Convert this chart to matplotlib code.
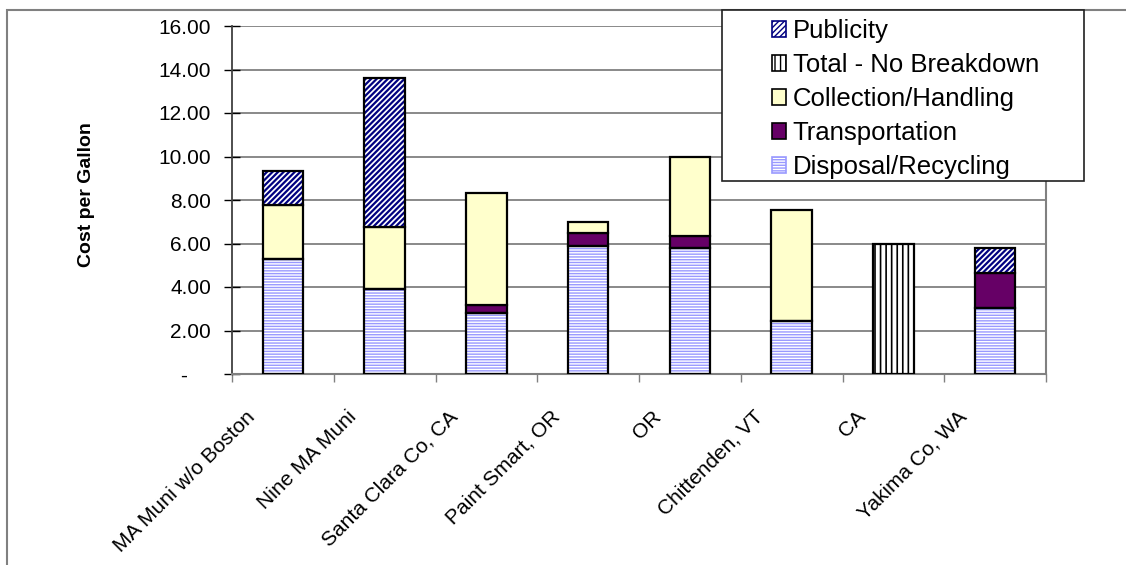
import matplotlib
matplotlib.use("Agg")
import matplotlib.pyplot as plt
import matplotlib.transforms as mtransforms
from matplotlib.patches import Patch, Rectangle
import numpy as np

plt.rcParams['font.family'] = ['Liberation Sans', 'DejaVu Sans']
plt.rcParams['hatch.linewidth'] = 1.0

# data (cost per gallon, stacked)
sites = ['MA Muni w/o Boston', 'Nine MA Muni', 'Santa Clara Co, CA', 'Paint Smart, OR',
         'OR', 'Chittenden, VT', 'CA', 'Yakima Co, WA']
disposal = [5.29, 3.91, 2.80, 5.89, 5.81, 2.45, 0.00, 3.02]
transport = [0.00, 0.00, 0.37, 0.61, 0.53, 0.00, 0.00, 1.61]
collection = [2.48, 2.85, 5.15, 0.50, 3.64, 5.09, 0.00, 0.00]
total_only = [0.00, 0.00, 0.00, 0.00, 0.00, 0.00, 6.00, 0.00]
publicity = [1.56, 6.84, 0.00, 0.00, 0.00, 0.00, 0.00, 1.18]

# (name, values, facecolor, hatch, hatch colour, hatch linewidth)
series = [
    ('Disposal/Recycling', disposal, 'white', '------', '#9999FF', 1.0),
    ('Transportation', transport, '#660066', None, None, 1.0),
    ('Collection/Handling', collection, '#FFFFCC', None, None, 1.0),
    ('Total - No Breakdown', total_only, 'white', '|||', 'black', 1.2),
    ('Publicity', publicity, 'white', '//////', '#000080', 1.6),
]

fig = plt.figure(figsize=(11.26, 5.65), dpi=100)
ax = fig.add_axes([232 / 1126, 1 - 374 / 565, 814 / 1126, 348 / 565])

x = np.arange(len(sites))
width = 0.4
bottom = np.zeros(len(sites))
for name, vals, face, hatch, hcol, hlw in series:
    vals = np.array(vals)
    mask = vals > 0
    if hatch:
        # hatch layer, then black outline on top
        with plt.rc_context({'hatch.linewidth': hlw}):
            ax.bar(x[mask], vals[mask], width, bottom=bottom[mask], color=face,
                   hatch=hatch, edgecolor=hcol, linewidth=0, zorder=3)
        ax.bar(x[mask], vals[mask], width, bottom=bottom[mask], fill=False,
               edgecolor='black', linewidth=1.6, zorder=4)
    else:
        ax.bar(x[mask], vals[mask], width, bottom=bottom[mask], color=face,
               edgecolor='black', linewidth=1.6, zorder=3)
    bottom = bottom + vals

ax.set_xlim(-0.5, len(sites) - 0.5)
ax.set_ylim(0, 16)
yt = np.arange(0, 17, 2)
ax.set_yticks(yt)
# accounting style: zero shown as a dash
ax.set_yticklabels(['-    '] + ['%.2f' % v for v in yt[1:]], fontsize=15)
ax.yaxis.grid(True, color='#808080', linewidth=1.3, zorder=0)
ax.set_axisbelow(True)
ax.tick_params(axis='y', direction='inout', length=12, width=1, pad=9)

ax.set_xticks(x)
ax.set_xticks(np.arange(-0.5, len(sites)), minor=True)
ax.tick_params(axis='x', which='major', length=0, pad=24)
ax.tick_params(axis='x', which='minor', length=6, width=1, color='#808080')
ax.set_xticklabels(sites, rotation=45, ha='right', va='top',
                   rotation_mode='anchor', fontsize=15)
# Excel puts the rotated labels a bit left of the category centre
shift = mtransforms.ScaledTranslation(-38 / 100, 0, fig.dpi_scale_trans)
for lab in ax.get_xticklabels():
    lab.set_transform(lab.get_transform() + shift)

ax.spines['left'].set_color('#404040')
ax.spines['left'].set_linewidth(1.3)
for s in ['bottom', 'right']:
    ax.spines[s].set_color('#808080')
    ax.spines[s].set_linewidth(1.5)
ax.spines['top'].set_visible(False)

ax.set_ylabel('Cost per Gallon', fontsize=14, fontweight='bold')
ax.yaxis.set_label_coords(-0.168, 0.517)

# outer chart frame
fig.add_artist(Rectangle((7 / 1126, -0.2), 1.2, 1.2 - 10 / 565,
                         transform=fig.transFigure, fill=False,
                         edgecolor='#808080', linewidth=1.5, zorder=1))
# legend box
fig.add_artist(Rectangle((722 / 1126, 1 - 181 / 565), 362 / 1126, 171 / 565,
                         transform=fig.transFigure, facecolor='white',
                         edgecolor='#202020', linewidth=1.2, zorder=4))

handles = []
for name, vals, face, hatch, hcol, hlw in series[::-1]:
    handles.append(Patch(facecolor=face, hatch=hatch,
                         edgecolor=hcol if hatch else 'black', linewidth=1.2))
leg = fig.legend(handles, [s[0] for s in series[::-1]], loc='upper left',
                 bbox_to_anchor=(772 / 1126, 1 - 19 / 565), frameon=False,
                 fontsize=18.5, handlelength=0.55, handleheight=0.55,
                 handletextpad=0.25, labelspacing=0.39, borderpad=0,
                 borderaxespad=0)
leg.set_zorder(5)

fig.savefig('out.png', dpi=100)
